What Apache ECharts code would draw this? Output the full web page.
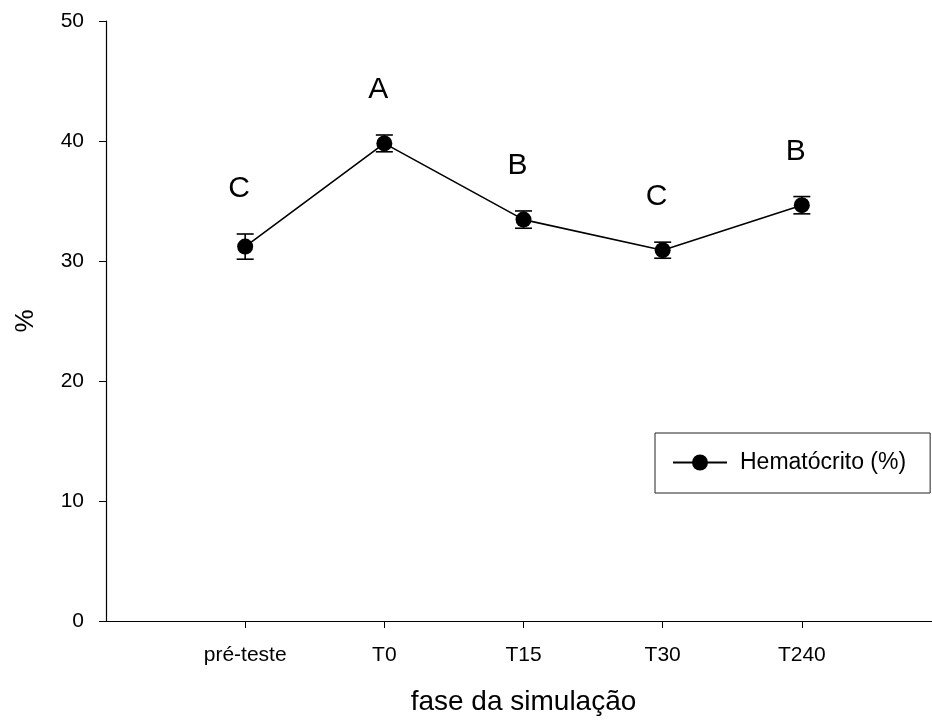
<!DOCTYPE html>
<html>
<head>
<meta charset="utf-8">
<script src="https://cdn.jsdelivr.net/npm/echarts@6/dist/echarts.min.js"></script>
<style>
  html, body { margin: 0; padding: 0; background: #fff; }
  #chart { width: 932px; height: 722px; }
</style>
</head>
<body>
<div id="chart"></div>
<script>
// Hematocrit by simulation phase (mean ± error), with group letters
const phases = ['pré-teste', 'T0', 'T15', 'T30', 'T240'];
const hematocrit = [31.2, 39.8, 33.45, 30.9, 34.65];
const hematocritErr = [1.05, 0.7, 0.72, 0.67, 0.72];
const groupLetters = ['C', 'A', 'B', 'C', 'B'];
const yTicks = [0, 10, 20, 30, 40, 50];

const FONT = 'Liberation Sans, Arial, Helvetica, sans-serif';

// phases sit at x = 1..5 on a 0..6 value axis
const linePoints = hematocrit.map((v, i) => [i + 1, v]);
const errPoints = hematocrit.map((v, i) => [i + 1, v - hematocritErr[i], v + hematocritErr[i]]);
const letterPoints = hematocrit.map((v, i) => ({ value: [i + 1, v + hematocritErr[i]], name: groupLetters[i] }));

const chart = echarts.init(document.getElementById('chart'), null, { renderer: 'canvas' });

chart.setOption({
  backgroundColor: '#ffffff',
  animation: false,
  textStyle: { fontFamily: FONT, color: '#000' },
  grid: { left: 106, right: -9, top: 21, bottom: 101, containLabel: false, outerBoundsMode: 'none' },
  legend: {
    data: ['Hematócrito (%)'],
    left: 655,
    top: 433,
    padding: [18, 24, 19, 17],
    itemWidth: 54,
    itemHeight: 20,
    itemGap: 12,
    borderColor: '#222',
    borderWidth: 1,
    textStyle: { fontSize: 23, color: '#000', fontFamily: FONT, padding: [0, 0, 0, 8] }
  },
  xAxis: {
    type: 'value',
    min: 0,
    max: 6,
    interval: 1,
    name: 'fase da simulação',
    nameLocation: 'middle',
    nameGap: 67,
    nameTextStyle: { fontSize: 28, color: '#000', fontFamily: FONT },
    axisLine: { lineStyle: { color: '#000', width: 1.2 } },
    axisTick: {
      show: true, length: 7, lineStyle: { color: '#000', width: 1 },
      customValues: [1, 2, 3, 4, 5]
    },
    axisLabel: {
      fontSize: 21, color: '#000', margin: 24, fontFamily: FONT,
      customValues: [1, 2, 3, 4, 5],
      formatter: (v) => phases[v - 1] || ''
    },
    splitLine: { show: false }
  },
  yAxis: {
    type: 'value',
    min: 0,
    max: 50,
    interval: 10,
    name: '%',
    nameLocation: 'middle',
    nameGap: 67,
    nameRotate: 90,
    nameTextStyle: { fontSize: 26, color: '#000', fontFamily: FONT },
    axisLine: { show: true, lineStyle: { color: '#000', width: 1.2 } },
    axisTick: { show: true, length: 7, lineStyle: { color: '#000', width: 1 } },
    axisLabel: {
      fontSize: 21, color: '#000', margin: 22, fontFamily: FONT,
      formatter: (v) => (yTicks.indexOf(v) >= 0 ? String(v) : '')
    },
    splitLine: { show: false }
  },
  series: [
    {
      name: 'Hematócrito (%)',
      type: 'line',
      data: linePoints,
      symbol: 'circle',
      symbolSize: 16,
      lineStyle: { color: '#000', width: 1.6 },
      itemStyle: { color: '#000' },
      z: 3
    },
    {
      name: 'erro',
      type: 'custom',
      data: errPoints,
      encode: { x: 0, y: [1, 2] },
      renderItem: function (params, api) {
        const x = api.value(0);
        const lo = api.coord([x, api.value(1)]);
        const hi = api.coord([x, api.value(2)]);
        const half = 8.5;
        const style = { stroke: '#000', lineWidth: 1.6 };
        return {
          type: 'group',
          children: [
            { type: 'line', shape: { x1: lo[0], y1: lo[1], x2: hi[0], y2: hi[1] }, style: style },
            { type: 'line', shape: { x1: lo[0] - half, y1: lo[1], x2: lo[0] + half, y2: lo[1] }, style: style },
            { type: 'line', shape: { x1: hi[0] - half, y1: hi[1], x2: hi[0] + half, y2: hi[1] }, style: style }
          ]
        };
      },
      z: 2
    },
    {
      name: 'letras',
      type: 'scatter',
      data: letterPoints,
      symbol: 'circle',
      symbolSize: 0,
      silent: true,
      itemStyle: { opacity: 1, color: '#000' },
      label: {
        show: true,
        position: 'top',
        distance: 30,
        offset: [-6, 0],
        formatter: (p) => p.name,
        fontSize: 30,
        color: '#000',
        fontFamily: FONT
      },
      z: 4
    }
  ]
});
</script>
</body>
</html>
